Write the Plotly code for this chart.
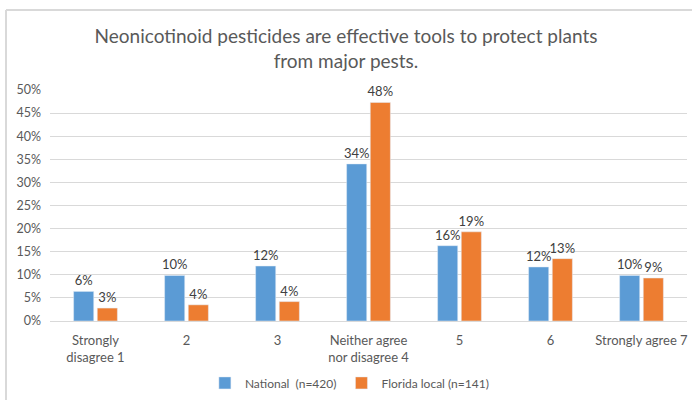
import plotly.graph_objects as go

categories = ["Strongly<br>disagree 1", "2", "3", "Neither agree<br>nor disagree 4", "5", "6", "Strongly agree 7"]
national = [6.4, 9.85, 11.9, 34.0, 16.3, 11.7, 9.85]
florida = [2.8, 3.5, 4.2, 47.3, 19.3, 13.5, 9.3]
national_labels = ["6%", "10%", "12%", "34%", "16%", "12%", "10%"]
florida_labels = ["3%", "4%", "4%", "48%", "19%", "13%", "9%"]
yticks = [0, 5, 10, 15, 20, 25, 30, 35, 40, 45, 50]

FONT = "Lato, 'Open Sans', sans-serif"
GREY = "#595959"

fig = go.Figure()
fig.add_trace(go.Bar(x=categories, y=national, name="National  (n=420)",
                     marker_color="#5B9BD5", text=national_labels,
                     textposition="outside", cliponaxis=False, constraintext="none",
                     textfont=dict(size=13, color="#404040", family=FONT)))
fig.add_trace(go.Bar(x=categories, y=florida, name="Florida local (n=141)",
                     marker_color="#ED7D31", text=florida_labels,
                     textposition="outside", cliponaxis=False, constraintext="none",
                     textfont=dict(size=13, color="#404040", family=FONT)))

fig.update_layout(
    width=692, height=400,
    margin=dict(l=50, r=5, t=90, b=79, autoexpand=False),
    paper_bgcolor="white", plot_bgcolor="white",
    barmode="group", bargap=0.48, bargroupgap=0.15,
    font=dict(family=FONT, color=GREY, size=12),
    title=dict(text="Neonicotinoid pesticides are effective tools to protect plants<br>from major pests.",
               x=0.5, xanchor="center", y=1 - 43 / 400, yanchor="middle",
               font=dict(size=19, color=GREY, family=FONT)),
    legend=dict(orientation="h", x=0.47, xanchor="center", y=-0.268, yanchor="middle",
                font=dict(size=12, color=GREY, family=FONT), itemwidth=30, traceorder="normal"),
    showlegend=True,
)
fig.update_xaxes(showgrid=False, showline=False, ticks="", tickfont=dict(size=13, color=GREY),
                 ticklabelstandoff=10, automargin=False)
fig.update_yaxes(range=[0, 50], tickvals=yticks, ticktext=[f"{v}%" for v in yticks],
                 showgrid=True, gridcolor="#d9d9d9", gridwidth=1, zeroline=True,
                 zerolinecolor="#d9d9d9", zerolinewidth=1, ticks="",
                 tickfont=dict(size=12.5, color=GREY), ticklabelstandoff=8, automargin=False)

# chart border (Excel chart area outline)
fig.add_shape(type="line", xref="paper", yref="paper", x0=(6 - 50) / 637, x1=(692 - 50) / 637,
              y0=(321 - 10) / 231, y1=(321 - 10) / 231, line=dict(color="#d9d9d9", width=2))
fig.add_shape(type="line", xref="paper", yref="paper", x0=(6 - 50) / 637, x1=(6 - 50) / 637,
              y0=(321 - 10) / 231, y1=(321 - 400) / 231, line=dict(color="#d9d9d9", width=2))

fig.write_html("out.html", config={"displayModeBar": False},
               post_script="document.body.style.margin='0';document.body.style.overflow='hidden';")
